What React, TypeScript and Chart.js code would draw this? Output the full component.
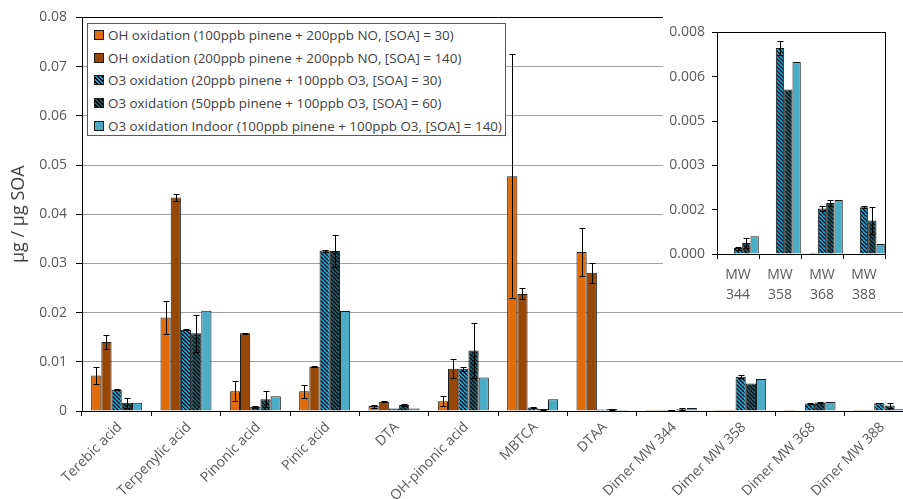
import React, { useEffect, useRef } from 'react';
import { Chart, registerables } from 'chart.js';

Chart.register(...registerables);

const categories = [
  'Terebic acid', 'Terpenylic acid', 'Pinonic acid', 'Pinic acid', 'DTA', 'OH-pinonic acid',
  'MBTCA', 'DTAA', 'Dimer MW 344', 'Dimer MW 358', 'Dimer MW 368', 'Dimer MW 388',
];

const seriesNames = [
  'OH oxidation (100ppb pinene + 200ppb NO, [SOA] = 30)',
  'OH oxidation (200ppb pinene + 200ppb NO, [SOA] = 140)',
  'O3 oxidation (20ppb pinene + 100ppb O3, [SOA] = 30)',
  'O3 oxidation (50ppb pinene + 100ppb O3, [SOA] = 60)',
  'O3 oxidation Indoor (100ppb pinene + 100ppb O3, [SOA] = 140)',
];

const ohLow = [0.0072, 0.019, 0.004, 0.004, 0.001, 0.002, 0.0477, 0.0323, 0.00002, 0.00002, 0.00002, 0.00002];
const ohLowErr = [0.0017, 0.0034, 0.002, 0.0013, 0.0003, 0.001, 0.0248, 0.0049, 0, 0, 0, 0];

const ohHigh = [0.014, 0.0434, 0.0158, 0.009, 0.0019, 0.0086, 0.0238, 0.0281, 0.00002, 0.00002, 0.00004, 0.00002];
const ohHighErr = [0.0014, 0.0008, 0.0001, 0.0001, 0.0001, 0.0019, 0.0011, 0.002, 0, 0, 0, 0];

const o3Low = [0.0043, 0.0165, 0.0008, 0.0326, 0.0005, 0.0086, 0.0007, 0.0003, 0.0002, 0.00697, 0.00154, 0.00158];
const o3LowErr = [0.0001, 0.0001, 0.0002, 0.0002, 0, 0.0004, 0.0001, 0, 0.00005, 0.00025, 0.0001, 0.00003];

const o3High = [0.0017, 0.0158, 0.0024, 0.0325, 0.0012, 0.0123, 0.0004, 0.0004, 0.00037, 0.00557, 0.00173, 0.00113];
const o3HighErr = [0.001, 0.0038, 0.0016, 0.0032, 0.0002, 0.0056, 0.0001, 0.0001, 0.00018, 0, 0.0001, 0.00045];

const indoor = [0.0017, 0.0204, 0.003, 0.0203, 0.0005, 0.0068, 0.0024, 0.0002, 0.0006, 0.0065, 0.00183, 0.00034];
const indoorErr = [0, 0, 0, 0, 0, 0, 0, 0, 0, 0, 0, 0];

const yTickLabels = ['0', '0.01', '0.02', '0.03', '0.04', '0.05', '0.06', '0.07', '0.08'];

const insetCategories = [['MW', '344'], ['MW', '358'], ['MW', '368'], ['MW', '388']];
const insetTickLabels = ['0.000', '0.002', '0.003', '0.005', '0.006', '0.008'];
const insetStart = 8;

const COLORS = {
  ohLow: '#E36C0A',
  ohHigh: '#974806',
  o3Low: '#1AA9E4',
  o3High: '#23606F',
  indoor: '#4BACC6',
  stripe: '#0a0a0a',
};

const FONT = "'Open Sans', 'Noto Sans', sans-serif";

function makePattern(base: string, stripe: string) {
  const c = document.createElement('canvas');
  c.width = 8;
  c.height = 8;
  const g = c.getContext('2d')!;
  g.fillStyle = base;
  g.fillRect(0, 0, 8, 8);
  g.strokeStyle = stripe;
  g.lineWidth = 1.25;
  g.beginPath();
  for (const k of [-8, -4, 0, 4, 8]) {
    g.moveTo(k, 0);
    g.lineTo(k + 8, 8);
  }
  g.stroke();
  return g.createPattern(c, 'repeat')!;
}

const errorBarPlugin = {
  id: 'errorBarsCustom',
  afterDatasetsDraw(chart: any) {
    const ctx = chart.ctx;
    const yScale = chart.scales.y;
    ctx.save();
    ctx.strokeStyle = '#000';
    ctx.lineWidth = 1;
    chart.data.datasets.forEach((ds: any, i: number) => {
      const meta = chart.getDatasetMeta(i);
      const errs: number[] = ds.errors || [];
      meta.data.forEach((el: any, j: number) => {
        const e = errs[j];
        if (!e) return;
        const v = ds.data[j];
        const yt = Math.round(yScale.getPixelForValue(v + e)) + 0.5;
        const yb = Math.round(yScale.getPixelForValue(Math.max(v - e, 0))) + 0.5;
        const x = Math.round(el.x) + 0.5;
        ctx.beginPath();
        ctx.moveTo(x, yt);
        ctx.lineTo(x, yb);
        ctx.moveTo(x - 3, yt);
        ctx.lineTo(x + 3, yt);
        ctx.moveTo(x - 3, yb);
        ctx.lineTo(x + 3, yb);
        ctx.stroke();
      });
    });
    ctx.restore();
  },
};

const boxPlugin = {
  id: 'boxCustom',
  afterDraw(chart: any) {
    const a = chart.chartArea;
    const ctx = chart.ctx;
    ctx.save();
    ctx.strokeStyle = '#000';
    ctx.lineWidth = 1;
    ctx.strokeRect(Math.round(a.left) + 0.5, Math.round(a.top) + 0.5, Math.round(a.right - a.left), Math.round(a.bottom - a.top));
    ctx.restore();
  },
};

function buildDatasets(sliceFrom: number, sliceTo: number) {
  const p1 = makePattern(COLORS.o3Low, COLORS.stripe);
  const p2 = makePattern(COLORS.o3High, COLORS.stripe);
  const defs = [
    { data: ohLow, errors: ohLowErr, bg: COLORS.ohLow as any },
    { data: ohHigh, errors: ohHighErr, bg: COLORS.ohHigh as any },
    { data: o3Low, errors: o3LowErr, bg: p1 as any },
    { data: o3High, errors: o3HighErr, bg: p2 as any },
    { data: indoor, errors: indoorErr, bg: COLORS.indoor as any },
  ];
  return defs.map((d, i) => ({
    label: seriesNames[i],
    data: d.data.slice(sliceFrom, sliceTo),
    errors: d.errors.slice(sliceFrom, sliceTo),
    backgroundColor: d.bg,
    borderColor: '#1a1a1a',
    borderWidth: 1,
    borderSkipped: 'bottom',
  }));
}

export default function App() {
  const mainRef = useRef<HTMLCanvasElement>(null);
  const insetRef = useRef<HTMLCanvasElement>(null);

  useEffect(() => {
    Chart.defaults.font.family = FONT;
    const main = new Chart(mainRef.current!, {
      type: 'bar',
      data: { labels: categories, datasets: buildDatasets(0, categories.length) as any },
      plugins: [errorBarPlugin],
      options: {
        animation: false,
        responsive: false,
        devicePixelRatio: 1,
        layout: { padding: { top: 15, right: 6, left: 0, bottom: 0 } },
        datasets: { bar: { categoryPercentage: 0.736, barPercentage: 1 } },
        plugins: { legend: { display: false }, tooltip: { enabled: false } },
        scales: {
          x: {
            grid: { drawOnChartArea: false, tickLength: 5, color: '#000', offset: true },
            border: { color: '#000' },
            ticks: {
              autoSkip: false, maxRotation: 45, minRotation: 45, color: '#595959',
              font: { size: 14, family: FONT }, padding: 3, labelOffset: 3,
            },
            afterFit: (s: any) => { s.height = 88; },
          },
          y: {
            min: 0, max: 0.08,
            ticks: {
              stepSize: 0.01, color: '#595959', font: { size: 14, family: FONT }, padding: 9,
              callback: (_v: any, i: number) => yTickLabels[i],
            },
            grid: {
              tickLength: 6,
              tickColor: '#000',
              color: (c: any) => (c.index === yTickLabels.length - 1 ? '#000' : c.index === 0 ? 'rgba(0,0,0,0)' : '#A0A0A0'),
            },
            border: { color: '#000' },
            title: {
              display: true, text: 'µg / µg SOA', color: '#404040',
              font: { size: 18, family: FONT }, padding: { top: 8, bottom: 0 },
            },
            afterFit: (s: any) => { s.width = 82; },
          },
        },
      } as any,
    });

    const inset = new Chart(insetRef.current!, {
      type: 'bar',
      data: { labels: insetCategories as any, datasets: buildDatasets(insetStart, insetStart + 4) as any },
      plugins: [errorBarPlugin, boxPlugin],
      options: {
        animation: false,
        responsive: false,
        devicePixelRatio: 1,
        layout: { padding: { top: 15, right: 18, left: 0, bottom: 0 } },
        datasets: { bar: { categoryPercentage: 0.99, barPercentage: 1 } },
        plugins: { legend: { display: false }, tooltip: { enabled: false } },
        scales: {
          x: {
            grid: { drawOnChartArea: false, tickLength: 5, color: '#000', offset: true },
            border: { color: '#000' },
            ticks: {
              autoSkip: false, maxRotation: 0, color: '#595959',
              font: { size: 14, family: FONT, lineHeight: 1.45 }, padding: 6,
            },
            afterFit: (s: any) => { s.height = 51; },
          },
          y: {
            min: 0, max: 0.0075,
            ticks: {
              stepSize: 0.0015, color: '#595959', font: { size: 14, family: FONT }, padding: 7,
              callback: (_v: any, i: number) => insetTickLabels[i],
            },
            grid: { drawOnChartArea: false, tickLength: 5, tickColor: '#000' },
            border: { color: '#000' },
            afterFit: (s: any) => { s.width = 54; },
          },
        },
      } as any,
    });

    return () => {
      main.destroy();
      inset.destroy();
    };
  }, []);

  const swatches = [
    { background: COLORS.ohLow },
    { background: COLORS.ohHigh },
    { background: `repeating-linear-gradient(45deg, ${COLORS.o3Low} 0 1.4px, #000 1.4px 2.8px)` },
    { background: `repeating-linear-gradient(45deg, ${COLORS.o3High} 0 1.4px, #000 1.4px 2.8px)` },
    { background: COLORS.indoor },
  ];

  return (
    <div style={{ position: 'fixed', left: 0, top: 0, width: 903, height: 499, overflow: 'hidden', background: '#fff' }}>
      <canvas ref={mainRef} width={920} height={499} style={{ position: 'absolute', left: 0, top: 0, width: 920, height: 499 }} />
      <canvas ref={insetRef} width={240} height={288} style={{ position: 'absolute', left: 663, top: 17, width: 240, height: 288, background: '#fff' }} />
      <div
        style={{
          position: 'absolute', left: 87, top: 23, width: 417, height: 111, border: '1px solid #595959',
          background: '#fff', fontFamily: FONT, fontSize: 13.4, color: '#404040',
        }}
      >
        {seriesNames.map((name, i) => (
          <div key={i} style={{ position: 'absolute', left: 6, top: 1 + i * 22.7, height: 20, display: 'flex', alignItems: 'center', whiteSpace: 'nowrap' }}>
            <span style={{ display: 'inline-block', width: 8, height: 8, border: '1px solid #1a1a1a', marginRight: 4, ...swatches[i] }} />
            <span>{name}</span>
          </div>
        ))}
      </div>
    </div>
  );
}
